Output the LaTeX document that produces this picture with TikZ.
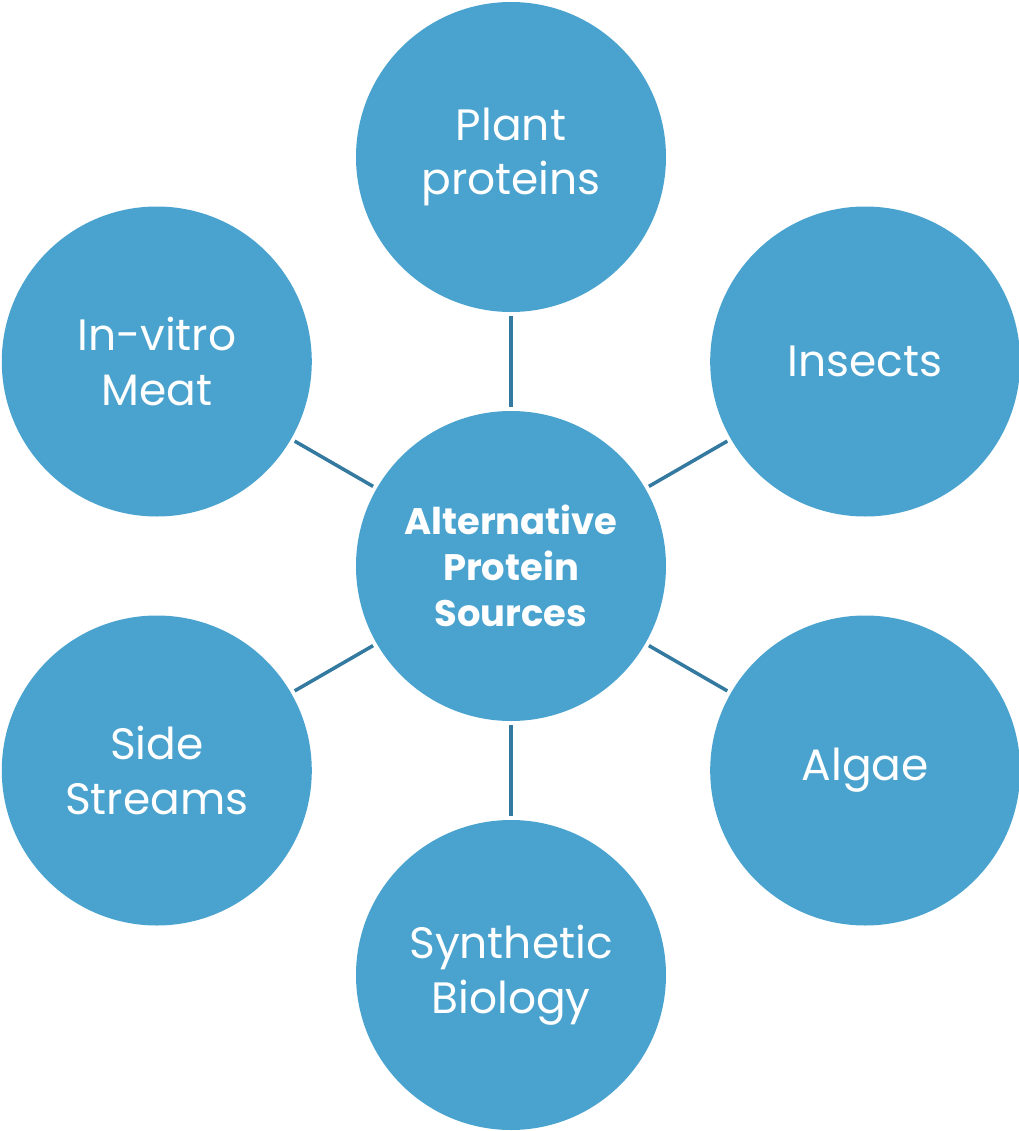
\documentclass[tikz,border=0pt]{standalone}
\usepackage{fontspec}
\setmainfont{Poppins}
\usepackage{xcolor}
\usepackage{tikz}
\usetikzlibrary{positioning}

\definecolor{hubblue}{HTML}{4AA3CF}
\definecolor{linkblue}{HTML}{34799F}

\tikzset{
    hub/.style={circle, fill=hubblue, minimum size=3.1cm, inner sep=0pt,
        text=white, align=center, font=\fontsize{10.5}{13}\selectfont\bfseries},
    leaf/.style={circle, fill=hubblue, minimum size=3.1cm, inner sep=0pt,
        text=white, align=center, font=\fontsize{12.5}{15.6}\selectfont},
    link/.style={draw=linkblue, line width=1pt, shorten >=1pt, shorten <=1pt}
}

\begin{document}
\begin{tikzpicture}
    \useasboundingbox (-5.11,-5.65) rectangle (5.07,5.66);
    % centre
    \node[hub] (core) at (0,0) {Alternative\\Protein\\Sources};
    % sources around it
    \node[leaf] (plant)     at (90:4.09)  {Plant\\proteins};
    \node[leaf] (insects)   at (30:4.09)  {Insects};
    \node[leaf] (algae)     at (-30:4.09) {Algae};
    \node[leaf] (synbio)    at (-90:4.09) {Synthetic\\Biology};
    \node[leaf] (streams)   at (210:4.09) {Side\\Streams};
    \node[leaf] (invitro)   at (150:4.09) {In-vitro\\Meat};
    % spokes
    \foreach \src in {plant, insects, algae, synbio, streams, invitro}
        \draw[link] (core) -- (\src);
\end{tikzpicture}
\end{document}
